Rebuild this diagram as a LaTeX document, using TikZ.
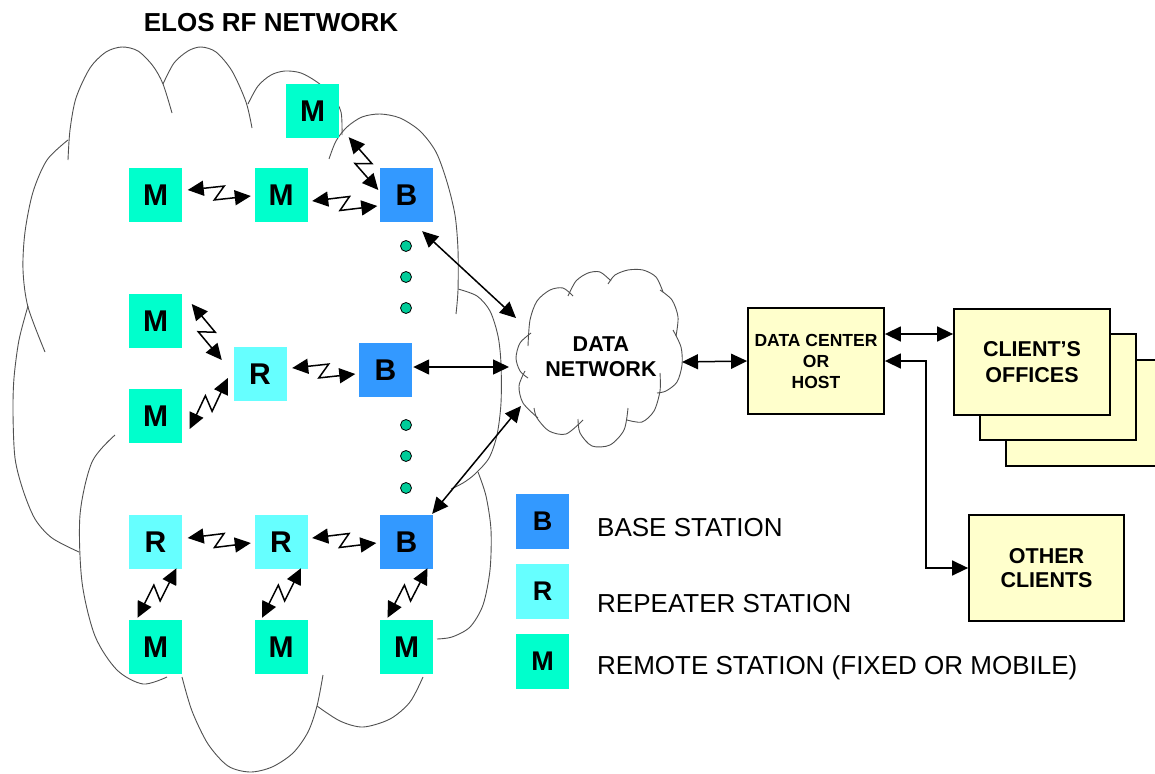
\documentclass[tikz,border=0pt]{standalone}
\usepackage{fontspec}
\setmainfont{Liberation Sans}
\usetikzlibrary{arrows.meta,calc}
\definecolor{mcol}{HTML}{00FFCC}
\definecolor{rcol}{HTML}{66FFFF}
\definecolor{bcol}{HTML}{3399FF}
\definecolor{dotcol}{HTML}{00CC99}
\definecolor{boxcol}{HTML}{FFFFCC}
\definecolor{cloudcol}{HTML}{505050}
\begin{document}
\begin{tikzpicture}[x=1pt,y=-1pt,
  >={Triangle[length=16pt,width=15pt]},
  station/.style={minimum width=53pt,minimum height=54pt,inner sep=0pt,font=\fontsize{30}{30}\selectfont\bfseries},
  mst/.style={station,fill=mcol},
  rst/.style={station,fill=rcol},
  bst/.style={station,fill=bcol},
  legbox/.style={station,minimum height=55pt,font=\fontsize{27}{28}\selectfont\bfseries},
  legtext/.style={anchor=west,inner sep=0pt,font=\fontsize{26}{28}\selectfont},
  dotnode/.style={circle,draw=black,line width=0.8pt,fill=dotcol,minimum size=11pt,inner sep=0pt},
  ybox/.style={draw=black,line width=1.8pt,fill=boxcol,inner sep=0pt,align=center},
  cloudline/.style={draw=cloudcol,line width=0.9pt},
  link/.style={line width=1.5pt,<->},
  zz/.style={line width=1.5pt,<->,
    to path={-- ($(\tikztostart)!0.5!(\tikztotarget)!8.5pt!60:(\tikztotarget)$)
             -- ($(\tikztostart)!0.5!(\tikztotarget)!8.5pt!-120:(\tikztotarget)$)
             -- (\tikztotarget)}}
]
\useasboundingbox (0,0) rectangle (1155,773);

% ---------- big cloud (ELOS RF network) ----------
\draw[cloudline] plot[smooth] coordinates {(68,160) (70,130) (76,98) (90,68) (106,52) (122,47) (138,51) (153,66) (163,84) (172,113)};
\draw[cloudline] plot[smooth] coordinates {(163,84) (174,63) (188,51) (201,47) (216,52) (232,71) (246,102) (252,128)};
\draw[cloudline] plot[smooth] coordinates {(248,104) (258,86) (271,75) (285,71) (301,73) (317,82) (332,95) (341,112) (342,135)};
\draw[cloudline] plot[smooth] coordinates {(329,159) (336,141) (347,127) (362,117) (380,114) (400,118) (420,131) (436,152) (447,182) (455,215) (458,250) (458,290) (456,314)};
\draw[cloudline] plot[smooth] coordinates {(458,289) (477,296) (490,311) (498,336) (501,364) (501,403) (497,435) (489,458) (475,474) (463,483) (451,489)};
\draw[cloudline] plot[smooth] coordinates {(478,472) (486,496) (491,530) (490,570) (483,605) (470,627) (452,637) (437,639)};
\draw[cloudline] plot[smooth] coordinates {(423,677) (410,702) (390,719) (363,727) (340,721) (317,706)};
\draw[cloudline] plot[smooth] coordinates {(323,675) (317,706) (308,732) (293,753) (272,767) (250,772) (228,766) (208,744) (192,711) (182,677)};
\draw[cloudline] plot[smooth] coordinates {(167,677) (143,684) (117,670) (95,636) (82,582) (80,515) (92,462) (115,435)};
\draw[cloudline] plot[smooth] coordinates {(28,306) (19,340) (14,378) (13,413) (15,458) (23,490) (35,519) (52,538) (79,552)};
\draw[cloudline] plot[smooth] coordinates {(68,140) (47,160) (33,192) (25,232) (23,270) (28,307) (45,352)};

% ---------- data network cloud ----------
\draw[cloudline] plot[smooth] coordinates {(531,333) (520,343) (516,358) (520,371) (528,378)};
\draw[cloudline] plot[smooth] coordinates {(528,346) (530,320) (537,301) (550,290) (563,288) (573,296)};
\draw[cloudline] plot[smooth] coordinates {(568,296) (576,281) (588,273) (600,272) (611,281)};
\draw[cloudline] plot[smooth] coordinates {(608,284) (615,275) (628,270) (643,270) (656,277) (663,292)};
\draw[cloudline] plot[smooth] coordinates {(660,290) (672,300) (678,317) (676,336)};
\draw[cloudline] plot[smooth] coordinates {(673,330) (681,347) (682,365) (677,382) (666,391) (657,393)};
\draw[cloudline] plot[smooth] coordinates {(660,373) (660,391) (654,411) (642,422) (627,420)};
\draw[cloudline] plot[smooth] coordinates {(628,408) (624,430) (610,445) (592,446) (580,433) (578,419)};
\draw[cloudline] plot[smooth] coordinates {(583,420) (566,434) (549,431) (537,418) (534,408)};
\draw[cloudline] plot[smooth] coordinates {(525,371) (519,386) (523,403) (538,418)};

% ---------- title ----------
\node[font=\fontsize{26}{28}\selectfont\bfseries] (title) at (271,23) {ELOS RF NETWORK};

% ---------- stations ----------
\node[mst] (mt) at (312.5,111) {M};
\node[mst] (m1) at (155.5,195) {M};
\node[mst] (m2) at (281,195) {M};
\node[bst] (b1) at (406.5,195) {B};
\node[mst] (m3) at (155.5,321) {M};
\node[rst] (r1) at (260,374) {R};
\node[bst] (b2) at (385.5,370) {B};
\node[mst] (m4) at (155.5,416) {M};
\node[rst] (r2) at (155.5,542) {R};
\node[rst] (r3) at (281,542) {R};
\node[bst] (b3) at (406.5,542) {B};
\node[mst] (m5) at (155.5,647) {M};
\node[mst] (m6) at (281,647) {M};
\node[mst] (m7) at (406.5,647) {M};

% dots
\node[dotnode] (d1) at (406,246) {};
\node[dotnode] (d2) at (406,277) {};
\node[dotnode] (d3) at (406,308) {};
\node[dotnode] (d4) at (406,425) {};
\node[dotnode] (d5) at (406,456) {};
\node[dotnode] (d6) at (406,488) {};

% ---------- zigzag radio links ----------
\coordinate (z1a) at ($(m1.east)+(5.5,-5)$);   \coordinate (z1b) at ($(m2.west)+(-3.5,1)$);
\coordinate (z2a) at ($(m2.east)+(4.5,6)$);    \coordinate (z2b) at ($(b1.west)+(-2.5,11)$);
\coordinate (z3a) at ($(mt.south east)+(9.5,-1)$); \coordinate (z3b) at ($(b1.west)+(-1.5,-5)$);
\coordinate (z4a) at ($(m3.east)+(9.5,-17)$);  \coordinate (z4b) at ($(r1.west)+(-11.5,-14)$);
\coordinate (z5a) at ($(m4.east)+(7.5,13)$);   \coordinate (z5b) at ($(r1.west)+(-5.5,4)$);
\coordinate (z6a) at ($(r1.east)+(5.5,-6)$);   \coordinate (z6b) at ($(b2.west)+(-3.5,4)$);
\coordinate (z7a) at ($(r2.east)+(5.5,-4)$);   \coordinate (z7b) at ($(r3.west)+(-3.5,1)$);
\coordinate (z8a) at ($(r3.east)+(4.5,-4)$);   \coordinate (z8b) at ($(b3.west)+(-3.5,1)$);
\coordinate (z9a) at ($(r2.south)+(21,-1)$);   \coordinate (z9b) at ($(m5.north)+(-18,-2)$);
\coordinate (z10a) at ($(r3.south)+(20,-1)$);  \coordinate (z10b) at ($(m6.north)+(-19,-2)$);
\coordinate (z11a) at ($(b3.south)+(21,-1)$);  \coordinate (z11b) at ($(m7.north)+(-19,-2)$);
\draw[zz] (z1a) to (z1b);
\draw[zz] (z2a) to (z2b);
\draw[zz] (z3a) to (z3b);
\draw[zz] (z4a) to (z4b);
\draw[zz] (z5a) to (z5b);
\draw[zz] (z6a) to (z6b);
\draw[zz] (z7a) to (z7b);
\draw[zz] (z8a) to (z8b);
\draw[zz] (z9a) to (z9b);
\draw[zz] (z10a) to (z10b);
\draw[zz] (z11a) to (z11b);

% ---------- data network, data center, clients ----------
\node[align=center,font=\fontsize{21.5}{25}\selectfont\bfseries,minimum width=167pt,minimum height=177pt,inner sep=0pt] (dn) at (601,357) {DATA\\NETWORK};
\node[ybox,minimum width=136pt,minimum height=106pt,font=\fontsize{17.5}{21}\selectfont\bfseries] (dc) at (816,361) {DATA CENTER\\OR\\HOST};
\node[ybox,minimum width=156pt,minimum height=106pt] (cl3) at (1084,413) {};
\node[ybox,minimum width=156pt,minimum height=106pt] (cl2) at (1058,387) {};
\node[ybox,minimum width=156pt,minimum height=106pt,font=\fontsize{21.5}{26}\selectfont\bfseries] (cl1) at (1032,362) {CLIENT’S\\OFFICES};
\node[ybox,minimum width=155pt,minimum height=106pt,font=\fontsize{21.5}{24}\selectfont\bfseries] (oc) at (1046.5,568) {OTHER\\CLIENTS};

\draw[link] ($(b1.south east)+(-11,9)$) -- ($(dn.center)+(-85,-39)$);
\draw[link] ($(b2.east)+(1,-3)$) -- ($(dn.center)+(-92,10)$);
\draw[link] ($(b3.north east)+(-1,-1)$) -- ($(dn.center)+(-80,49)$);
\draw[link] ($(dn.center)+(81,5)$) -- (dc.west);
\draw[link] ($(dc.east)+(0,-27)$) -- ($(cl1.west)+(0,-28)$);
\draw[link] (dc.east) -| (926,568) -- (oc.west);

% ---------- legend ----------
\node[legbox,fill=bcol] (lb) at (542.5,521.5) {B};
\node[legbox,fill=rcol] (lr) at (542.5,591.5) {R};
\node[legbox,fill=mcol] (lm) at (542.5,661.5) {M};
\node[legtext] (tb) at (597,528) {BASE STATION};
\node[legtext] (tr) at (597,604) {REPEATER STATION};
\node[legtext] (tm) at (597,668) {REMOTE STATION (FIXED OR MOBILE)};
\end{tikzpicture}
\end{document}
